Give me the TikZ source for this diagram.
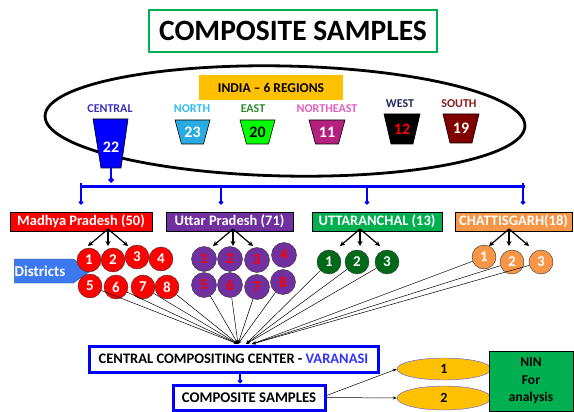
\documentclass[tikz,border=0pt]{standalone}
\usepackage{fontspec}
\setmainfont{Carlito}
\usetikzlibrary{shapes.geometric,shapes.symbols,arrows.meta,positioning}

\definecolor{titlegreen}{HTML}{00B050}
\definecolor{indiaorange}{HTML}{FFC000}
\definecolor{cblue}{HTML}{0000FF}
\definecolor{nblue}{HTML}{29ABE2}
\definecolor{egreen}{HTML}{00FF00}
\definecolor{nemag}{HTML}{B4207E}
\definecolor{sred}{HTML}{800000}
\definecolor{cenlbl}{HTML}{3B2FC0}
\definecolor{norlbl}{HTML}{33BBEE}
\definecolor{eastlbl}{HTML}{2E8B2E}
\definecolor{nelbl}{HTML}{E060C0}
\definecolor{westlbl}{HTML}{1F2A60}
\definecolor{southlbl}{HTML}{8B1A1A}
\definecolor{mpred}{HTML}{FF0000}
\definecolor{uppurple}{HTML}{7030A0}
\definecolor{ukgreen}{HTML}{00B050}
\definecolor{dkgreen}{HTML}{006A1A}
\definecolor{cgorange}{HTML}{F79646}
\definecolor{distblue}{HTML}{3C78F0}
\definecolor{varblue}{HTML}{3333FF}
\definecolor{eblue}{HTML}{5050FF}

\begin{document}
\begin{tikzpicture}[x=1pt,y=-1pt,font=\bfseries,align=center,
  fs/.style={font=\bfseries\fontsize{#1}{#1}\selectfont},
  stbox/.style={rectangle,draw=black,text=white,fs=14.5,minimum height=19pt,inner sep=0pt},
  distdot/.style={circle,draw=black!80,minimum size=24pt,inner sep=0pt,fs=15},
  reglbl/.style={fs=12},
  num/.style={fs=16},
  trapline/.style={draw=black,line width=.6pt},
  fan/.style={black,line width=1.2pt,-{Stealth[length=5pt,width=5pt]}},
  feed/.style={black,line width=.5pt,-{Stealth[length=4pt,width=3pt]}},
  drop/.style={cblue,line width=1.5pt,-{Diamond[length=5pt,width=5pt]}},
  sbox/.style={rectangle,draw=cblue,line width=3pt,fill=white,inner sep=0pt}]
      \useasboundingbox (0,0) rectangle (574,412);

      %title
      \node[rectangle,draw=titlegreen,line width=2.5pt,minimum width=288pt,minimum height=42pt,inner sep=0pt,fs=29.5] (title) at (293,31) {COMPOSITE SAMPLES};

      %india
      \draw[line width=2.8pt,rotate around={-1.2:(285,121)}] (285,121) ellipse [x radius=240,y radius=55];
      \node[fill=indiaorange,minimum width=144pt,minimum height=25pt,inner sep=0pt,fs=13.5] (india) at (271,87.5) {INDIA – 6 REGIONS};

      %regions
      \node[reglbl,text=cenlbl] (lcen) at (110,109) {CENTRAL};
      \filldraw[trapline,fill=cblue] (93,119) -- (128,119) -- (121,168) -- (101,168) -- cycle;
      \node[num,text=white] (ncen) at (111,147) {22};
      \node[reglbl,text=norlbl] (lnor) at (192,109) {NORTH};
      \filldraw[trapline,fill=nblue] (175,120) -- (210,120) -- (203.5,144) -- (181.5,144) -- cycle;
      \node[num,text=white] (nnor) at (192.5,132) {23};
      \node[reglbl,text=eastlbl] (least) at (253,109) {EAST};
      \filldraw[trapline,fill=egreen] (240,120) -- (275,120) -- (268.5,144) -- (246.5,144) -- cycle;
      \node[num,text=black] (neast) at (257.5,132) {20};
      \node[reglbl,text=nelbl] (lne) at (327,109) {NORTHEAST};
      \filldraw[trapline,fill=nemag] (309,120) -- (345,120) -- (338.5,144) -- (315.5,144) -- cycle;
      \node[num,text=white] (nne) at (327,132) {11};
      \node[reglbl,text=westlbl] (lwest) at (400,104) {WEST};
      \filldraw[trapline,fill=black] (384,114) -- (420,114) -- (413,144) -- (391,144) -- cycle;
      \node[num,text=red] (nwest) at (402,129) {12};
      \node[reglbl,text=southlbl] (lsouth) at (459,104) {SOUTH};
      \filldraw[trapline,fill=sred] (443,114) -- (479,114) -- (472,143) -- (450,143) -- cycle;
      \node[num,text=white] (nsouth) at (461,128.5) {19};

      %bus
      \coordinate (bc) at (111,168);
      \coordinate (bL) at (81,187);
      \coordinate (bR) at (525,187);
      \draw[cblue,line width=2pt,-{Diamond[length=6pt,width=6pt]}] (bc) -- (111,183);
      \draw[cblue,line width=3pt] (bL) -- (bR);

      %states
      \node[stbox,fill=mpred,minimum width=142pt] (mp) at (81,221.5) {Madhya Pradesh (50)};
      \node[stbox,fill=uppurple,minimum width=127pt] (up) at (229.5,221.5) {Uttar Pradesh (71)};
      \node[stbox,fill=ukgreen,minimum width=130pt] (uk) at (377,221.5) {UTTARANCHAL (13)};
      \node[stbox,fill=cgorange,minimum width=117pt] (cg) at (513.5,221.5) {CHATTISGARH(18)};

      \coordinate (b1) at (81,183);
      \coordinate (b2) at (221,187);
      \coordinate (b3) at (367,187);
      \coordinate (b4) at (523,183);
      \foreach \b/\s in {b1/mp,b2/up,b3/uk,b4/cg}
        \draw[drop,shorten >=7pt] (\b) -- (\b |- \s.north);

      %fans
      \coordinate (fmp) at (108,229);
      \coordinate (fup) at (233,229);
      \coordinate (fuk) at (360,229);
      \coordinate (fcg) at (509,229);
      \foreach \o in {fmp,fup,fuk,fcg}
        \foreach \dx in {-20,0,20}
          \draw[fan] (\o) -- ++(\dx,17);

      %districts
      \node[signal,signal to=east,signal pointer angle=70,fill=distblue,draw=distblue!60!black,text=white,fs=15,minimum width=73pt,minimum height=24pt,inner sep=0pt] (dist) at (44,271) {Districts\hspace{8pt}};
      \foreach \n/\x/\y in {1/89/260,2/113/260,3/137/257,4/161/259,5/90/286,6/116/287,7/143/287,8/167/287}
        \node[distdot,fill=mpred,text=white] (mp\n) at (\x,\y) {\n};
      \foreach \n/\x/\y in {1/204/259,2/230/259,3/257/260,4/284/255,5/204/285,6/230/285,7/257/287,8/283/282}
        \node[distdot,minimum size=25pt,fill=uppurple,text=red] (up\n) at (\x,\y) {\n};
      \foreach \n/\x/\y in {1/329/262,2/357/262,3/387/262}
        \node[distdot,fill=dkgreen,text=white] (uk\n) at (\x,\y) {\n};
      \foreach \n/\x/\y in {1/484/257,2/512/262,3/541/262}
        \node[distdot,fill=cgorange,text=white] (cg\n) at (\x,\y) {\n};

      %compositing
      \node[sbox,minimum width=289pt,minimum height=26pt,fs=14.5] (ccc) at (233.5,359) {CENTRAL COMPOSITING CENTER - \textcolor{varblue}{VARANASI}};
      \coordinate (hubA) at (238,344);
      \coordinate (hubB) at (246,344);
      \coordinate (hubC) at (252,344);
      \foreach \n in {5,...,8} \draw[feed] (mp\n) -- (hubA);
      \foreach \n in {5,...,8} \draw[feed] (up\n) -- (hubA);
      \foreach \n in {1,2,3} \draw[feed] (uk\n) -- (hubB);
      \foreach \n in {1,2,3} \draw[feed] (cg\n) -- (hubC);

      \node[sbox,minimum width=152pt,minimum height=25pt,fs=14.8] (cs) at (249,397.5) {COMPOSITE SAMPLES};
      \draw[drop] ([xshift=6.5pt]ccc.south) -- ([xshift=-9pt]cs.north);

      %output
      \node[ellipse,fill=indiaorange,draw=eblue,minimum width=94pt,minimum height=22pt,inner sep=0pt,fs=14] (s1) at (444,369) {1};
      \node[ellipse,fill=indiaorange,draw=eblue,minimum width=94pt,minimum height=24pt,inner sep=0pt,fs=14] (s2) at (444,398) {2};
      \draw[feed] ([yshift=2pt]cs.east) -- (s1.west);
      \draw[feed] (cs.east) -- (s2.west);
      \node[rectangle,draw=black,fill=ukgreen,line width=.8pt,minimum width=84pt,minimum height=60pt,inner sep=0pt,font=\bfseries\fontsize{13.5}{17.5}\selectfont] (nin) at (531,381) {NIN\\For\\analysis};

    \end{tikzpicture}
\end{document}
